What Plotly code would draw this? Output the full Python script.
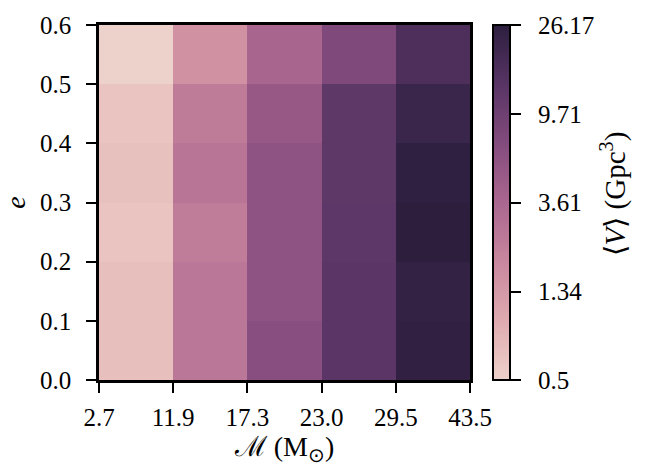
import numpy as np
import plotly.graph_objects as go

# ---- data ----
chirp_edges = ["2.7", "11.9", "17.3", "23.0", "29.5", "43.5"]
ecc_edges = [0.0, 0.1, 0.2, 0.3, 0.4, 0.5, 0.6]
# <V> (Gpc^3), rows = eccentricity bins (bottom to top), cols = chirp-mass bins
vol_e00 = [0.67, 2.55, 6.55, 13.0, 24.7]
vol_e01 = [0.67, 2.55, 5.85, 13.0, 23.4]
vol_e02 = [0.63, 2.26, 5.85, 12.5, 26.17]
vol_e03 = [0.66, 2.70, 5.85, 12.3, 25.5]
vol_e04 = [0.63, 2.30, 5.08, 12.3, 21.4]
vol_e05 = [0.50, 1.51, 3.72, 7.46, 15.6]
cbar_ticks = [0.5, 1.34, 3.61, 9.71, 26.17]
cbar_text = ["0.5", "1.34", "3.61", "9.71", "26.17"]

# ---- seaborn cubehelix_palette(as_cmap=True) colours ----
def cubehelix(x, start=0.0, rot=0.4, gamma=1.0, hue=0.8):
    xg = x ** gamma
    a = hue * xg * (1 - xg) / 2
    phi = 2 * np.pi * (start / 3 + rot * x)
    r = xg + a * (-0.14861 * np.cos(phi) + 1.78277 * np.sin(phi))
    g = xg + a * (-0.29227 * np.cos(phi) - 0.90649 * np.sin(phi))
    b = xg + a * (1.97294 * np.cos(phi))
    return np.clip(np.stack([r, g, b], -1), 0, 1)

xs = np.linspace(0.85, 0.15, 32)
cols = cubehelix(xs)
colorscale = [[i / (len(xs) - 1), "rgb(%d,%d,%d)" % tuple((c * 255).round())]
              for i, c in enumerate(cols)]

z = np.log10(np.array([vol_e00, vol_e01, vol_e02, vol_e03, vol_e04, vol_e05]))
zmin, zmax = np.log10(cbar_ticks[0]), np.log10(cbar_ticks[-1])

font = "Liberation Serif"
fs = 25
L, R, T, B = 97, 182, 17, 86
PW, PH = 652 - L - R, 466 - T - B

fig = go.Figure(go.Heatmap(
    z=z, x=list(range(len(chirp_edges))), y=ecc_edges,
    colorscale=colorscale, zmin=zmin, zmax=zmax,
    xgap=0, ygap=0, hoverinfo="skip",
    colorbar=dict(
        x=(493 - L) / PW, xanchor="left", xpad=0,
        y=0, yanchor="bottom", len=1, lenmode="fraction", ypad=0,
        thickness=17, thicknessmode="pixels",
        outlinewidth=2, outlinecolor="black",
        tickvals=list(np.log10(cbar_ticks)),
        ticktext=["\u00a0\u00a0" + t for t in cbar_text],
        ticks="outside", ticklen=10, tickwidth=2, tickcolor="black",
        tickfont=dict(family=font, size=fs, color="black"),
    ),
))

fig.add_annotation(
    text="⟨<i>V</i>⟩ (Gpc<sup>3</sup>)", textangle=-90,
    xref="paper", yref="paper", x=(614 - L) / PW, y=(380 - 190) / PH,
    xanchor="center", yanchor="middle", showarrow=False,
    font=dict(family=font, size=29, color="black"),
)

fig.update_layout(
    width=652, height=466,
    margin=dict(l=L, r=R, t=T, b=B),
    paper_bgcolor="white", plot_bgcolor="white",
    font=dict(family=font, size=fs, color="black"),
)
fig.update_xaxes(
    range=[0, 5], tickvals=list(range(len(chirp_edges))), ticktext=chirp_edges,
    ticks="outside", ticklen=10, tickwidth=2, tickcolor="black",
    ticklabelstandoff=3,
    showline=True, linewidth=2.5, linecolor="black", mirror=True,
    showgrid=False, zeroline=False,
    title=dict(text="ℳ (M<sub>⊙</sub>)", standoff=0,
               font=dict(family=font, size=28)),
)
fig.update_yaxes(
    range=[0, 0.6], tickvals=ecc_edges, tickformat=".1f",
    ticks="outside", ticklen=10, tickwidth=2, tickcolor="black",
    ticklabelstandoff=10,
    showline=True, linewidth=2.5, linecolor="black", mirror=True,
    showgrid=False, zeroline=False,
    title=dict(text="<i>e</i>", standoff=8, font=dict(family=font, size=28)),
)

fig.write_html("out.html")
